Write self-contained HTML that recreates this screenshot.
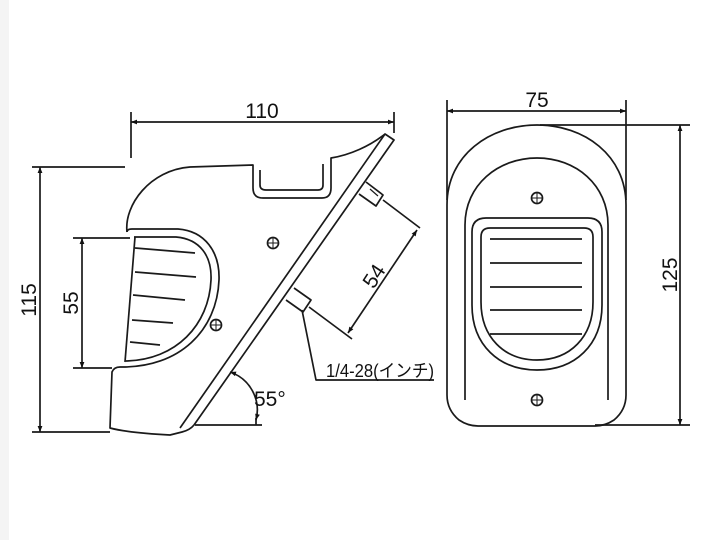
<!DOCTYPE html>
<html><head><meta charset="utf-8"><style>
html,body{margin:0;padding:0;background:#fff;width:720px;height:540px;overflow:hidden}
svg{display:block}
text{font-family:"Liberation Sans","Noto Sans CJK JP",sans-serif;fill:#111}
</style></head><body>
<svg width="720" height="540" viewBox="0 0 720 540" xmlns="http://www.w3.org/2000/svg">
<defs>
<marker id="a" viewBox="0 0 10 10" refX="10" refY="5" markerWidth="9" markerHeight="6" orient="auto-start-reverse" markerUnits="userSpaceOnUse"><path d="M0,1 L10,5 L0,9 z" fill="#111"/></marker>
</defs>
<rect x="0" y="0" width="9" height="540" fill="#f4f4f4"/>
<g fill="none" stroke="#1a1a1a" stroke-width="1.7" stroke-linejoin="round">
<line x1="131" y1="112" x2="131" y2="158"/>
<line x1="394" y1="112" x2="394" y2="133"/>
<line x1="131" y1="122" x2="394" y2="122" marker-start="url(#a)" marker-end="url(#a)"/>
<line x1="32" y1="167" x2="125" y2="167"/>
<line x1="32" y1="432" x2="110" y2="432"/>
<line x1="40" y1="167" x2="40" y2="432" marker-start="url(#a)" marker-end="url(#a)"/>
<line x1="73" y1="238" x2="130" y2="238"/>
<line x1="73" y1="368" x2="112" y2="368"/>
<line x1="82" y1="238" x2="82" y2="368" marker-start="url(#a)" marker-end="url(#a)"/>

<path d="M127,232 C124,205 150,170 190,167 L253,165 L253,188 Q253,198 263,198 L322,198 Q331,198 331,188 L331,158 C350,155 370,146 385,134 L394,140 L194,425 Q190,430 182,432 L170,435 C150,434 125,432 110,428 L112,372 Q114,367 120,367"/>
<path d="M260,170 L260,185 Q260,190 266,190 L318,190 Q323,190 323,185 L323,164"/>
<line x1="385" y1="134" x2="180" y2="428"/>
<path d="M127,232 Q127,229 132,229 L178,229 C205,231 220,252 219,280 C217,330 180,368 120,367"/>
<path d="M134,237 L176,237 C200,239 212,256 211,280 C209,325 176,360 126,361"/>
<line x1="135" y1="237" x2="125" y2="362"/>
<line x1="135" y1="248" x2="195" y2="253"/>
<line x1="135" y1="272" x2="196" y2="277"/>
<line x1="133" y1="295" x2="185" y2="300"/>
<line x1="132" y1="320" x2="173" y2="323"/>
<line x1="130" y1="342" x2="160" y2="345"/>
<circle cx="273" cy="243" r="5.5"/><path d="M267.5,243h11M273,237.5v11" stroke-width="1"/>
<circle cx="216" cy="325" r="5.5"/><path d="M210.5,325h11M216,319.5v11" stroke-width="1"/>
<path d="M366,182 L383,195 L376,206 L359,194"/>
<path d="M370,189 L378,196" stroke-width="1.2"/>
<path d="M294,288 L311,300 L303,312 L286,300"/>
<line x1="383" y1="200" x2="420" y2="228"/>
<line x1="309" y1="307" x2="352" y2="339"/>
<line x1="417" y1="230" x2="348" y2="333" marker-start="url(#a)" marker-end="url(#a)"/>
<polyline points="302,310 316,380 434,380"/>
<line x1="195" y1="425" x2="262" y2="425"/>
<line x1="256" y1="418" x2="256" y2="425"/>
<path d="M230,372 A40,40 0 0 1 256,420" marker-start="url(#a)" marker-end="url(#a)"/>

<line x1="447" y1="100" x2="447" y2="200"/>
<line x1="626" y1="100" x2="626" y2="200"/>
<line x1="447" y1="111" x2="626" y2="111" marker-start="url(#a)" marker-end="url(#a)"/>
<line x1="540" y1="125" x2="690" y2="125"/>
<line x1="595" y1="425" x2="690" y2="425"/>
<line x1="680" y1="125" x2="680" y2="425" marker-start="url(#a)" marker-end="url(#a)"/>
<path d="M447,205 C447,155 490,125 537,125 C584,125 626,155 626,205 L626,395 Q626,410 614,420 Q605,426 595,426 L478,426 Q468,426 459,420 Q447,410 447,395 Z"/>
<path d="M465,400 L465,225 C465,185 498,158 537,158 C576,158 608,185 608,225 L608,400"/>
<path d="M472,232 Q472,218 486,218 L588,218 Q602,218 602,232 L602,305 C602,345 575,370 537,370 C499,370 472,345 472,305 Z"/>
<path d="M481,237 Q481,228 490,228 L584,228 Q593,228 593,237 L593,302 C593,337 570,360 537,360 C504,360 481,337 481,302 Z"/>
<line x1="490" y1="239" x2="582" y2="239"/>
<line x1="490" y1="263" x2="582" y2="263"/>
<line x1="490" y1="287" x2="582" y2="287"/>
<line x1="490" y1="310" x2="582" y2="310"/>
<line x1="490" y1="334" x2="582" y2="334"/>
<circle cx="537" cy="198" r="5.5"/><path d="M531.5,198h11M537,192.5v11" stroke-width="1"/>
<circle cx="537" cy="400" r="5.5"/><path d="M531.5,400h11M537,394.5v11" stroke-width="1"/>
</g>
<g font-size="21">
<text x="262" y="118" text-anchor="middle">110</text>
<text x="537" y="107" text-anchor="middle">75</text>
<text transform="translate(36,300) rotate(-90)" text-anchor="middle">115</text>
<text transform="translate(78,303) rotate(-90)" text-anchor="middle">55</text>
<text transform="translate(677,275) rotate(-90)" text-anchor="middle">125</text>
<text transform="translate(380,280) rotate(-57)" text-anchor="middle">54</text>
<text x="254" y="406">55°</text>
</g>
<text x="326" y="377" font-size="18" textLength="108" lengthAdjust="spacingAndGlyphs">1/4-28(インチ)</text>
</svg>
</body></html>
